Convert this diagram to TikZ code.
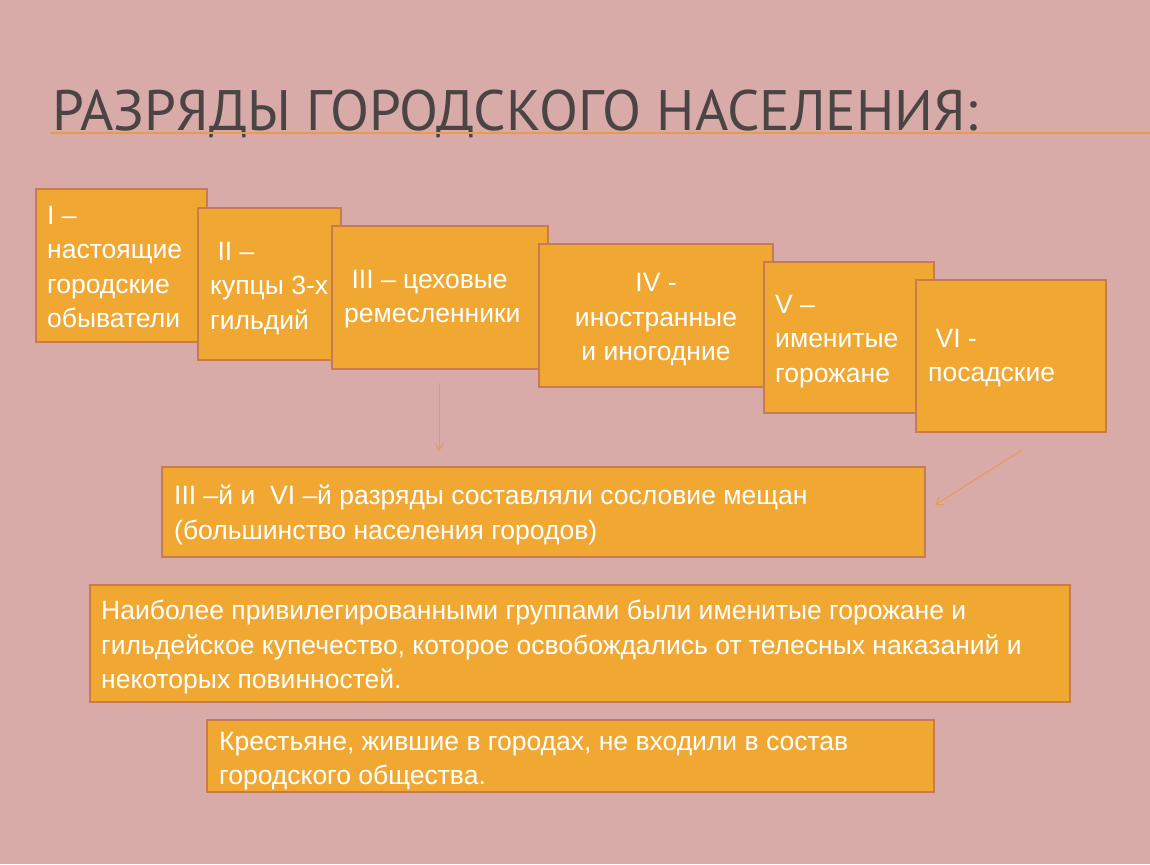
\documentclass[tikz,border=0pt]{standalone}
\usepackage{fontspec}
\setmainfont{Liberation Sans}
\newfontfamily\titlefont{PT Sans}
\definecolor{bg}{HTML}{D8ABA8}
\definecolor{boxfill}{HTML}{F0A832}
\definecolor{boxline}{HTML}{C77B4E}
\definecolor{txt}{HTML}{FFFFFF}
\definecolor{ttl}{HTML}{4A4444}
\definecolor{arr}{HTML}{E89A50}
\usetikzlibrary{arrows.meta}
\tikzset{
  card/.style={draw=boxline, line width=1.6pt, fill=boxfill},
  lbl/.style={text=txt, font=\fontsize{26.5}{34.5}\selectfont, inner sep=0pt},
  arrline/.style={draw=arr, line width=0.9pt, -{Straight Barb[length=7pt,width=9pt]}}
}
\begin{document}
\begin{tikzpicture}[x=1pt,y=-1pt]
\fill[bg] (0,0) rectangle (1150,864);
\useasboundingbox (0,0) rectangle (1150,864);
\node[anchor=base west, text=ttl, inner sep=0pt, font=\titlefont\fontsize{57}{57}\selectfont] (title) at (52,130) {РАЗРЯДЫ ГОРОДСКОГО НАСЕЛЕНИЯ:};
\draw[arr, line width=1.2pt] (50,133) -- (1150,133);
\draw[card] (36,189) rectangle (207,342);
\node[lbl, anchor=north west, align=left] (b1) at (47,206) {I –\\настоящие\\городские\\обыватели};
\draw[card] (198,208) rectangle (341,360);
\node[lbl, anchor=north west, align=left] (b2) at (210,242) {\ II –\\купцы 3-х\\гильдий};
\draw[card] (332,226) rectangle (548,369);
\node[lbl, anchor=north west, align=left] (b3) at (344,270) {\ III – цеховые\\ремесленники};
\draw[card] (539,244) rectangle (773,387);
\node[lbl, align=center] (b4) at (656,320) {IV -\\иностранные\\и иногодние};
\draw[card] (764,262) rectangle (934,413);
\node[lbl, anchor=north west, align=left] (b5) at (775,295) {V –\\именитые\\горожане};
\draw[card] (916,280) rectangle (1106,432);
\node[lbl, anchor=north west, align=left] (b6) at (928,329) {\ VI -\\посадские};
\draw[card] (162,467) rectangle (925,557);
\node[lbl, anchor=north west, align=left] (b7) at (174,485) {III –й и\ \ VI –й разряды составляли сословие мещан\\(большинство населения городов)};
\draw[card] (90,585) rectangle (1070,702);
\node[lbl, anchor=north west, align=left] (b8) at (101,600) {Наиболее привилегированными группами были именитые горожане и\\гильдейское купечество, которое освобождались от телесных наказаний и\\некоторых повинностей.};
\draw[card] (207,720) rectangle (934,792);
\node[lbl, anchor=north west, align=left] (b9) at (219,732) {Крестьяне, жившие в городах, не входили в состав\\городского общества.};
\coordinate (a1s) at (439,383); \coordinate (a1e) at (439,451);
\coordinate (a2s) at (1022,450); \coordinate (a2e) at (935,505);
\draw[arrline] (a1s) -- (a1e);
\draw[arrline] (a2s) -- (a2e);
\end{tikzpicture}
\end{document}
